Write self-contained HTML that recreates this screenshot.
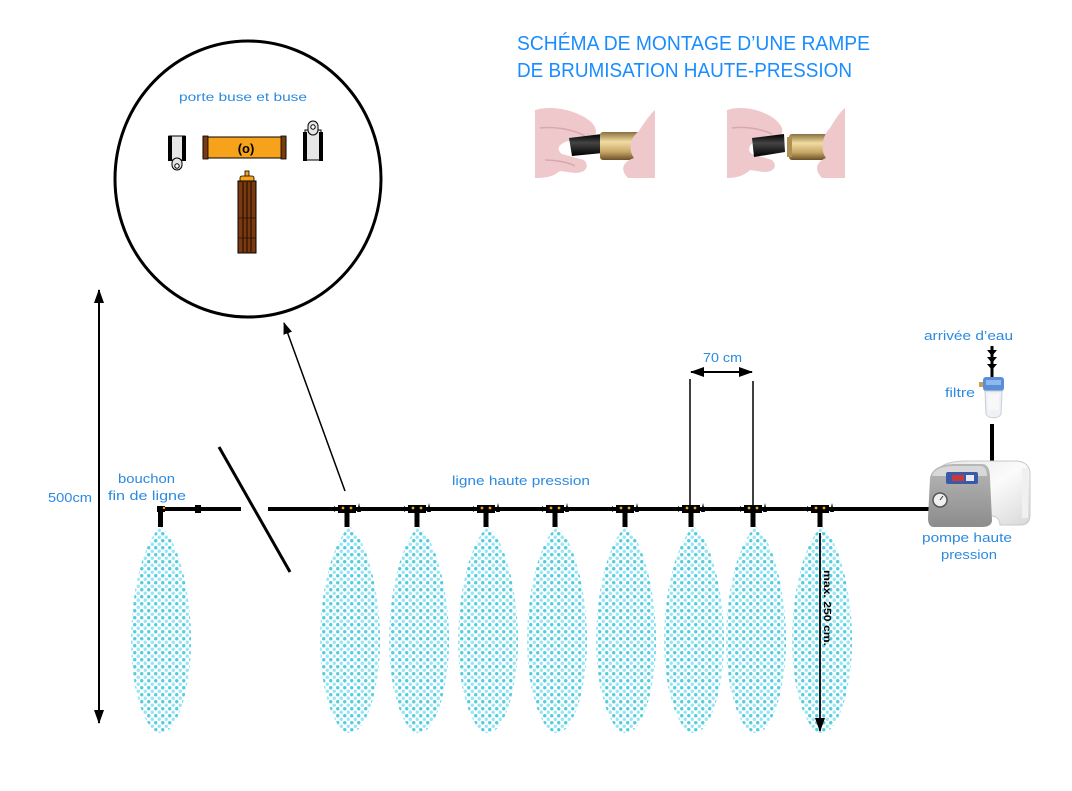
<!DOCTYPE html>
<html><head><meta charset="utf-8"><style>
html,body{margin:0;padding:0;background:#fff;}
svg{display:block;}
.lb{font-family:"Liberation Sans",sans-serif;fill:#2b8ae0;font-size:12.5px;}
.tt{font-family:"Liberation Sans",sans-serif;fill:#1a8cff;font-size:20px;}
</style></head><body>
<svg width="1072" height="791" viewBox="0 0 1072 791" xmlns="http://www.w3.org/2000/svg">
<defs>
<pattern id="dots" width="7" height="7" patternUnits="userSpaceOnUse">
<circle cx="1.75" cy="1.75" r="1.7" fill="#55cde0"/>
<circle cx="5.25" cy="5.25" r="1.7" fill="#98e6f2"/>
</pattern>
<path id="spray" d="M0 527 C18 540 30 595 30 640 C30 690 16 733 0 733 C-16 733 -30 690 -30 640 C-30 595 -18 540 0 527 Z"/>
<marker id="ah" viewBox="0 0 14 10" refX="13" refY="5" markerUnits="userSpaceOnUse" markerWidth="14" markerHeight="10" orient="auto-start-reverse">
<path d="M0 0 L14 5 L0 10 Z" fill="#000"/></marker>
<marker id="ahs" viewBox="0 0 12 9" refX="11" refY="4.5" markerUnits="userSpaceOnUse" markerWidth="12" markerHeight="9" orient="auto-start-reverse">
<path d="M0 0 L12 4.5 L0 9 Z" fill="#000"/></marker>
<linearGradient id="gold" x1="0" y1="0" x2="0" y2="1">
<stop offset="0" stop-color="#8a7040"/><stop offset="0.35" stop-color="#f0dca0"/><stop offset="0.7" stop-color="#c8a868"/><stop offset="1" stop-color="#6a5028"/></linearGradient>
<linearGradient id="tube" x1="0" y1="0" x2="0" y2="1">
<stop offset="0" stop-color="#000"/><stop offset="0.4" stop-color="#444"/><stop offset="1" stop-color="#000"/></linearGradient>
<linearGradient id="pumpw" x1="0" y1="0" x2="1" y2="1">
<stop offset="0" stop-color="#e6e6e6"/><stop offset="0.5" stop-color="#fbfbfb"/><stop offset="1" stop-color="#d8d8d8"/></linearGradient>
<linearGradient id="pumpg" x1="0" y1="0" x2="0" y2="1">
<stop offset="0" stop-color="#b8b8b8"/><stop offset="1" stop-color="#8c8c8c"/></linearGradient>
</defs>

<!-- Title -->
<text class="tt" x="517" y="50" textLength="353" lengthAdjust="spacingAndGlyphs">SCHÉMA DE MONTAGE D’UNE RAMPE</text>
<text class="tt" x="517" y="77" textLength="335" lengthAdjust="spacingAndGlyphs">DE BRUMISATION HAUTE-PRESSION</text>

<!-- Photo 1 -->
<g>
<path d="M535 110 C552 105 576 110 590 121 C598 128 598 136 590 139 L568 141 C558 144 556 150 562 154 L584 160 C590 166 586 173 575 173 L560 171 C553 177 545 178 535 178 Z" fill="#efc8cc"/>
<path d="M540 128 C555 126 575 130 585 136" stroke="#d9a8ae" stroke-width="1.5" fill="none"/>
<path d="M545 160 C555 160 568 162 575 166" stroke="#d9a8ae" stroke-width="1.5" fill="none"/>
<path d="M569 138 L602 134 L603 153 L572 156 Z" fill="url(#tube)"/>
<rect x="600" y="132" width="40" height="28" rx="3" fill="url(#gold)"/>
<path d="M655 110 L655 178 L628 178 C620 170 622 162 634 158 C628 150 630 138 638 132 C645 122 650 114 655 110 Z" fill="#efc8cc"/>
</g>
<!-- Photo 2 -->
<g>
<path d="M727 110 C742 105 765 110 777 121 C784 128 784 134 778 137 L760 139 C750 142 746 150 752 154 L772 160 C778 166 774 172 764 172 L750 170 C744 176 736 178 727 178 Z" fill="#efc8cc"/>
<path d="M732 128 C745 126 762 129 772 134" stroke="#d9a8ae" stroke-width="1.5" fill="none"/>
<path d="M752 138 L784 134 L785 152 L754 157 Z" fill="url(#tube)"/>
<rect x="789" y="134" width="44" height="26" rx="3" fill="url(#gold)"/>
<rect x="787" y="137" width="5" height="20" fill="#b09050"/>
<path d="M845 108 L845 178 L822 178 C814 170 816 162 826 158 C820 150 822 136 830 128 C836 118 840 112 845 108 Z" fill="#efc8cc"/>
</g>

<!-- Circle detail -->
<ellipse cx="248" cy="179" rx="133" ry="138" fill="none" stroke="#000" stroke-width="3"/>
<text class="lb" x="179" y="101" textLength="128" lengthAdjust="spacingAndGlyphs" style="font-size:12px">porte buse et buse</text>
<rect x="169" y="136" width="16" height="24" fill="#e6e6e6" stroke="#000" stroke-width="1"/>
<rect x="168" y="136" width="4" height="25" fill="#000"/>
<rect x="182" y="136" width="4" height="25" fill="#000"/>
<rect x="172" y="158" width="10" height="12" rx="5" fill="#e6e6e6" stroke="#000" stroke-width="1"/>
<circle cx="177" cy="166" r="2.2" fill="#fff" stroke="#000" stroke-width="1"/>
<rect x="203" y="137" width="83" height="21" fill="#f7a21b" stroke="#000" stroke-width="1"/>
<rect x="203" y="136" width="5" height="23" fill="#7a3a10" stroke="#000" stroke-width="0.8"/>
<rect x="281" y="136" width="5" height="23" fill="#7a3a10" stroke="#000" stroke-width="0.8"/>
<text x="246" y="153" text-anchor="middle" style="font-family:'Liberation Sans',sans-serif;font-weight:bold;font-size:13px" fill="#000">(o)</text>
<rect x="305" y="130" width="16" height="30" fill="#e6e6e6" stroke="#000" stroke-width="1"/>
<rect x="303" y="132" width="4" height="29" fill="#000"/>
<rect x="319" y="132" width="4" height="29" fill="#000"/>
<rect x="308" y="121" width="10" height="14" rx="5" fill="#e6e6e6" stroke="#000" stroke-width="1"/>
<circle cx="313" cy="127" r="2.2" fill="#fff" stroke="#000" stroke-width="1"/>
<rect x="245" y="171" width="4" height="6" fill="#f7a21b" stroke="#000" stroke-width="0.8"/>
<rect x="240" y="176" width="14" height="6" rx="2" fill="#f7a21b" stroke="#000" stroke-width="0.8"/>
<rect x="238" y="181" width="18" height="72" fill="#7a3a10" stroke="#000" stroke-width="1"/>
<line x1="243" y1="182" x2="243" y2="252" stroke="#2a1000" stroke-width="1.2"/>
<line x1="247" y1="182" x2="247" y2="252" stroke="#2a1000" stroke-width="1.2"/>
<line x1="251" y1="182" x2="251" y2="252" stroke="#2a1000" stroke-width="1.2"/>
<line x1="238" y1="218" x2="256" y2="218" stroke="#2a1000" stroke-width="0.8"/>
<line x1="238" y1="238" x2="256" y2="238" stroke="#2a1000" stroke-width="0.8"/>

<!-- arrow to circle -->
<line x1="345" y1="491" x2="284" y2="323" stroke="#000" stroke-width="1.5" marker-end="url(#ahs)"/>

<!-- 500cm arrow -->
<line x1="99" y1="290" x2="99" y2="723" stroke="#000" stroke-width="2" marker-start="url(#ah)" marker-end="url(#ah)"/>
<text class="lb" x="48" y="502" textLength="44" lengthAdjust="spacingAndGlyphs">500cm</text>
<text class="lb" x="118" y="483" textLength="57" lengthAdjust="spacingAndGlyphs">bouchon</text>
<text class="lb" x="108" y="500" textLength="78" lengthAdjust="spacingAndGlyphs">fin de ligne</text>

<!-- sprays -->
<g fill="url(#dots)">
<use href="#spray" x="161"/>
<use href="#spray" x="350"/>
<use href="#spray" x="419"/>
<use href="#spray" x="488"/>
<use href="#spray" x="557"/>
<use href="#spray" x="626"/>
<use href="#spray" x="694"/>
<use href="#spray" x="756"/>
<use href="#spray" x="822"/>
</g>

<!-- main line -->
<line x1="157" y1="509" x2="241" y2="509" stroke="#000" stroke-width="4"/>
<line x1="268" y1="509" x2="935" y2="509" stroke="#000" stroke-width="4"/>
<rect x="157" y="506" width="8" height="6" fill="#000"/>
<rect x="158" y="509" width="5" height="18" fill="#000"/>
<circle cx="164" cy="508" r="1.2" fill="#f7a21b"/>
<path d="M195 505 L201 505 L201 513 L195 513 Z" fill="#000"/>
<line x1="219" y1="447" x2="290" y2="572" stroke="#000" stroke-width="3"/>

<!-- nozzles -->
<g fill="#000">
<g transform="translate(347,0)"><rect x="-9" y="505" width="18" height="8"/><rect x="-2.5" y="509" width="5" height="18"/><path d="M-13 506 L-9 509 L-13 512 Z"/><path d="M10 512 L12 503 L14 512 Z"/><circle cx="-4" cy="508" r="1.4" fill="#f7a21b"/><circle cx="4" cy="508" r="1.4" fill="#f7a21b"/></g>
<g transform="translate(417,0)"><rect x="-9" y="505" width="18" height="8"/><rect x="-2.5" y="509" width="5" height="18"/><path d="M-13 506 L-9 509 L-13 512 Z"/><path d="M10 512 L12 503 L14 512 Z"/><circle cx="-4" cy="508" r="1.4" fill="#f7a21b"/><circle cx="4" cy="508" r="1.4" fill="#f7a21b"/></g>
<g transform="translate(486,0)"><rect x="-9" y="505" width="18" height="8"/><rect x="-2.5" y="509" width="5" height="18"/><path d="M-13 506 L-9 509 L-13 512 Z"/><path d="M10 512 L12 503 L14 512 Z"/><circle cx="-4" cy="508" r="1.4" fill="#f7a21b"/><circle cx="4" cy="508" r="1.4" fill="#f7a21b"/></g>
<g transform="translate(555,0)"><rect x="-9" y="505" width="18" height="8"/><rect x="-2.5" y="509" width="5" height="18"/><path d="M-13 506 L-9 509 L-13 512 Z"/><path d="M10 512 L12 503 L14 512 Z"/><circle cx="-4" cy="508" r="1.4" fill="#f7a21b"/><circle cx="4" cy="508" r="1.4" fill="#f7a21b"/></g>
<g transform="translate(625,0)"><rect x="-9" y="505" width="18" height="8"/><rect x="-2.5" y="509" width="5" height="18"/><path d="M-13 506 L-9 509 L-13 512 Z"/><path d="M10 512 L12 503 L14 512 Z"/><circle cx="-4" cy="508" r="1.4" fill="#f7a21b"/><circle cx="4" cy="508" r="1.4" fill="#f7a21b"/></g>
<g transform="translate(691,0)"><rect x="-9" y="505" width="18" height="8"/><rect x="-2.5" y="509" width="5" height="18"/><path d="M-13 506 L-9 509 L-13 512 Z"/><path d="M10 512 L12 503 L14 512 Z"/><circle cx="-4" cy="508" r="1.4" fill="#f7a21b"/><circle cx="4" cy="508" r="1.4" fill="#f7a21b"/></g>
<g transform="translate(753,0)"><rect x="-9" y="505" width="18" height="8"/><rect x="-2.5" y="509" width="5" height="18"/><path d="M-13 506 L-9 509 L-13 512 Z"/><path d="M10 512 L12 503 L14 512 Z"/><circle cx="-4" cy="508" r="1.4" fill="#f7a21b"/><circle cx="4" cy="508" r="1.4" fill="#f7a21b"/></g>
<g transform="translate(820,0)"><rect x="-9" y="505" width="18" height="8"/><rect x="-2.5" y="509" width="5" height="18"/><path d="M-13 506 L-9 509 L-13 512 Z"/><path d="M10 512 L12 503 L14 512 Z"/><circle cx="-4" cy="508" r="1.4" fill="#f7a21b"/><circle cx="4" cy="508" r="1.4" fill="#f7a21b"/></g>
</g>

<text class="lb" x="452" y="485" textLength="138" lengthAdjust="spacingAndGlyphs">ligne haute pression</text>

<!-- 70 cm -->
<line x1="690" y1="379" x2="690" y2="505" stroke="#000" stroke-width="1.5"/>
<line x1="753" y1="381" x2="753" y2="505" stroke="#000" stroke-width="1.5"/>
<line x1="691" y1="372" x2="752" y2="372" stroke="#000" stroke-width="2" marker-start="url(#ah)" marker-end="url(#ah)"/>
<text class="lb" x="703" y="362" textLength="39" lengthAdjust="spacingAndGlyphs">70 cm</text>

<!-- max 250 -->
<line x1="820" y1="533" x2="820" y2="731" stroke="#000" stroke-width="1.8" marker-end="url(#ah)"/>
<text x="0" y="0" transform="translate(824,570) rotate(90)" style="font-family:'Liberation Sans',sans-serif;font-weight:bold;font-size:10px" fill="#000" textLength="76" lengthAdjust="spacingAndGlyphs">max. 250 cm.</text>

<!-- water inlet and filter -->
<text class="lb" x="924" y="340" textLength="89" lengthAdjust="spacingAndGlyphs">arrivée d’eau</text>
<line x1="992" y1="346" x2="992" y2="378" stroke="#000" stroke-width="3"/>
<path d="M987 350 L997 350 L992 356 Z M987 357 L997 357 L992 363 Z M987 364 L997 364 L992 370 Z" fill="#000"/>
<rect x="979" y="382" width="6" height="5" fill="#c8a050"/>
<rect x="983" y="377" width="21" height="14" rx="3" fill="#5a8fd8"/>
<rect x="986" y="380" width="15" height="5" fill="#8fb8ee"/>
<path d="M985 391 L1002 391 L1001 414 C999 419 988 419 986 414 Z" fill="#eef2f6" stroke="#c8ccd4" stroke-width="1"/>
<rect x="988" y="394" width="11" height="16" fill="#f8f8f8"/>
<text class="lb" x="945" y="397" textLength="30" lengthAdjust="spacingAndGlyphs">filtre</text>
<line x1="992" y1="424" x2="992" y2="462" stroke="#000" stroke-width="4"/>

<!-- pump -->
<path d="M935 475 C938 465 950 461 965 461 L1015 461 C1025 461 1030 466 1030 474 L1030 515 C1030 522 1026 525 1020 525 L1000 525 C1000 518 994 514 988 517 L984 525 L935 525 Z" fill="url(#pumpw)" stroke="#c8c8c8" stroke-width="1"/>
<path d="M930 478 C932 468 942 464 956 464 L982 464 C988 464 990 470 990 478 L992 520 C992 525 988 527 982 527 L934 527 C930 527 928 524 928 518 Z" fill="url(#pumpg)"/>
<path d="M932 476 C934 468 944 466 956 466 L980 466 C985 466 987 470 987 476 Z" fill="#d8d8d8"/>
<rect x="946" y="472" width="32" height="12" rx="2" fill="#3a5aa8"/>
<rect x="952" y="475" width="12" height="6" fill="#c83a3a"/>
<rect x="966" y="475" width="8" height="6" fill="#e8e8f0"/>
<circle cx="940" cy="500" r="7" fill="#f0f0f0" stroke="#555" stroke-width="1.5"/>
<line x1="940" y1="500" x2="943" y2="496" stroke="#333" stroke-width="1"/>
<rect x="1022" y="468" width="6" height="50" fill="#f0f0f0"/>
<text class="lb" x="922" y="542" textLength="90" lengthAdjust="spacingAndGlyphs">pompe haute</text>
<text class="lb" x="941" y="559" textLength="56" lengthAdjust="spacingAndGlyphs">pression</text>
</svg>
</body></html>
